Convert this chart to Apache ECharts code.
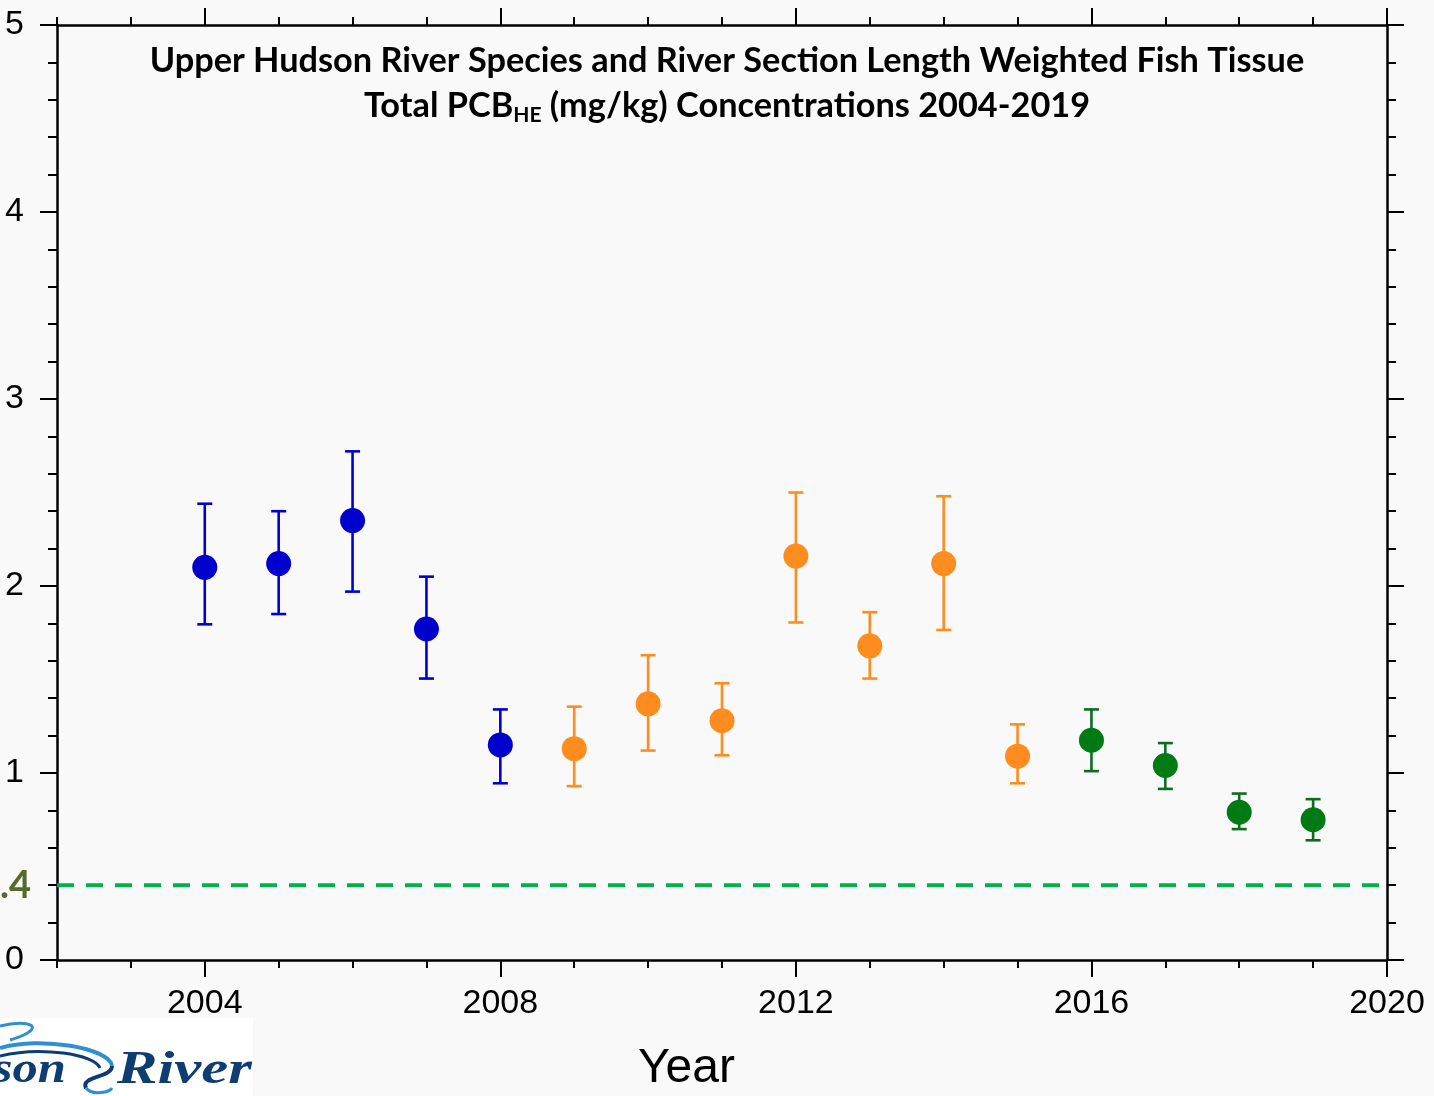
<!DOCTYPE html>
<html>
<head>
<meta charset="utf-8">
<script src="https://cdn.jsdelivr.net/npm/echarts@6/dist/echarts.min.js"></script>
<style>
html,body{margin:0;padding:0;background:#f9f9f9;}
#chart{width:1434px;height:1096px;}
</style>
</head>
<body>
<div id="chart"></div>
<script>
// ---- data ----
const years  = [2004, 2005, 2006, 2007, 2008, 2009, 2010, 2011, 2012, 2013, 2014, 2015, 2016, 2017, 2018, 2019];
const means  = [2.10, 2.12, 2.35, 1.77, 1.15, 1.13, 1.37, 1.28, 2.16, 1.68, 2.12, 1.09, 1.175, 1.04, 0.79, 0.75];
const upper  = [2.44, 2.40, 2.72, 2.05, 1.34, 1.355, 1.63, 1.48, 2.50, 1.86, 2.48, 1.26, 1.34, 1.16, 0.89, 0.86];
const lower  = [1.795, 1.85, 1.97, 1.505, 0.945, 0.93, 1.12, 1.095, 1.805, 1.505, 1.765, 0.945, 1.01, 0.915, 0.70, 0.64];
const period = ['pre','pre','pre','pre','pre','dredge','dredge','dredge','dredge','dredge','dredge','dredge','post','post','post','post'];
const majorYears = [2004, 2008, 2012, 2016, 2020];
const allYears = [2002, 2003, 2004, 2005, 2006, 2007, 2008, 2009, 2010, 2011, 2012, 2013, 2014, 2015, 2016, 2017, 2018, 2019, 2020];
const targetValue = 0.4;
const targetLine = [[2002, targetValue], [2020, targetValue]];

const periodStyle = {
  pre:    {marker: '#0000cc', bar: '#0000cc'},
  dredge: {marker: '#ff8c1e', bar: '#ff8c1e'},
  post:   {marker: '#007a12', bar: '#0d6b22'}
};

const chart = echarts.init(document.getElementById('chart'), null, {renderer: 'canvas'});

function seriesFor(key) {
  const pts = [], bars = [];
  years.forEach((y, i) => {
    if (period[i] === key) {
      pts.push([y, means[i]]);
      bars.push([y, lower[i], upper[i]]);
    }
  });
  const col = periodStyle[key];
  return [
    {
      type: 'custom',
      xAxisIndex: 0, yAxisIndex: 0,
      data: bars,
      encode: {x: 0, y: [1, 2]},
      z: 3,
      renderItem: function (params, api) {
        const x = api.value(0);
        const lo = api.coord([x, api.value(1)]);
        const hi = api.coord([x, api.value(2)]);
        const w = 7.5;
        const st = {stroke: col.bar, lineWidth: 2.6};
        return {
          type: 'group',
          children: [
            {type: 'line', shape: {x1: lo[0], y1: lo[1], x2: hi[0], y2: hi[1]}, style: st},
            {type: 'line', shape: {x1: lo[0] - w, y1: lo[1], x2: lo[0] + w, y2: lo[1]}, style: st},
            {type: 'line', shape: {x1: hi[0] - w, y1: hi[1], x2: hi[0] + w, y2: hi[1]}, style: st}
          ]
        };
      }
    },
    {
      type: 'scatter',
      xAxisIndex: 0, yAxisIndex: 0,
      data: pts,
      symbol: 'circle',
      symbolSize: 25,
      itemStyle: {color: col.marker, opacity: 1},
      z: 4
    }
  ];
}

const axisLineStyle = {color: '#000', width: 2.5};
const tickStyle = {color: '#000', width: 2};
const labelFont = '"Liberation Sans", Arial, sans-serif';
const yearFmt = v => String(v);

const option = {
  backgroundColor: '#f9f9f9',
  animation: false,
  grid: {left: 57, right: 47, top: 25, bottom: 136, containLabel: false},
  xAxis: [
    {
      type: 'value', position: 'bottom', min: 2002, max: 2020,
      axisLine: {show: true, lineStyle: axisLineStyle},
      axisTick: {show: true, customValues: majorYears, length: 17, lineStyle: tickStyle},
      axisLabel: {show: true, customValues: majorYears, formatter: yearFmt, fontSize: 34, color: '#000', fontFamily: labelFont, margin: 27},
      splitLine: {show: false}
    },
    {
      type: 'value', position: 'bottom', min: 2002, max: 2020,
      axisLine: {show: false},
      axisTick: {show: true, customValues: allYears, length: 8, lineStyle: tickStyle},
      axisLabel: {show: false},
      splitLine: {show: false}
    },
    {
      type: 'value', position: 'top', min: 2002, max: 2020,
      axisLine: {show: true, lineStyle: axisLineStyle},
      axisTick: {show: true, customValues: majorYears, length: 17, lineStyle: tickStyle},
      axisLabel: {show: false},
      splitLine: {show: false}
    },
    {
      type: 'value', position: 'top', min: 2002, max: 2020,
      axisLine: {show: false},
      axisTick: {show: true, customValues: allYears, length: 8, lineStyle: tickStyle},
      axisLabel: {show: false},
      splitLine: {show: false}
    }
  ],
  yAxis: [
    {
      type: 'value', position: 'left', min: 0, max: 5, interval: 1,
      axisLine: {show: true, lineStyle: axisLineStyle},
      axisTick: {show: true, length: 17, lineStyle: tickStyle},
      minorTick: {show: true, splitNumber: 5, length: 9, lineStyle: tickStyle},
      axisLabel: {show: true, fontSize: 34, color: '#000', fontFamily: labelFont, margin: 33},
      splitLine: {show: false}, minorSplitLine: {show: false}
    },
    {
      type: 'value', position: 'right', min: 0, max: 5, interval: 1,
      axisLine: {show: true, lineStyle: axisLineStyle},
      axisTick: {show: true, length: 17, lineStyle: tickStyle},
      minorTick: {show: true, splitNumber: 5, length: 9, lineStyle: tickStyle},
      axisLabel: {show: false},
      splitLine: {show: false}, minorSplitLine: {show: false}
    }
  ],
  series: [
    {
      type: 'line',
      xAxisIndex: 0, yAxisIndex: 0,
      data: targetLine,
      symbol: 'none',
      lineStyle: {color: '#00b050', width: 4, type: [17, 12]},
      z: 2
    },
    ...seriesFor('pre'),
    ...seriesFor('dredge'),
    ...seriesFor('post')
  ],
  graphic: [
    {
      type: 'text', x: 727, y: 38, z: 10,
      style: {
        text: '{a|Upper Hudson River Species and River Section Length Weighted Fish Tissue}\n{a|Total PCB}{s|HE}{a| (mg/kg) Concentrations 2004-2019}',
        align: 'center', verticalAlign: 'top',
        rich: {
          a: {fontFamily: 'Lato, sans-serif', fontWeight: 'bold', fontSize: 34.3, fill: '#000', lineHeight: 45},
          s: {fontFamily: 'Lato, sans-serif', fontWeight: 'bold', fontSize: 21, fill: '#000', lineHeight: 45, verticalAlign: 'bottom', padding: [0, 0, 2, 0]}
        }
      }
    },
    {
      type: 'text', left: 0, top: 867,
      style: {text: '.4', fontSize: 38, fontWeight: 'bold', fontFamily: 'Lato, sans-serif', fill: '#556b2a'}
    },
    {
      type: 'text', left: 638, top: 1045,
      style: {text: 'Year', fontSize: 48, fontFamily: labelFont, fill: '#000'}
    },
    {
      type: 'group', x: 0, y: 1018,
      children: [
        {type: 'rect', shape: {x: 0, y: 0, width: 253, height: 78}, style: {fill: '#ffffff'}},
        {type: 'bezierCurve', shape: {x1: 0, y1: 8, cpx1: 30, cpy1: 0, cpx2: 50, cpy2: 10, x2: 10, y2: 22}, style: {stroke: '#2f8fd4', lineWidth: 3, fill: null}},
        {type: 'bezierCurve', shape: {x1: 0, y1: 30, cpx1: 40, cpy1: 18, cpx2: 110, cpy2: 30, x2: 112, y2: 48}, style: {stroke: '#2f8fd4', lineWidth: 4, fill: null}},
        {type: 'bezierCurve', shape: {x1: 0, y1: 38, cpx1: 40, cpy1: 28, cpx2: 95, cpy2: 36, x2: 100, y2: 50}, style: {stroke: '#0e3d72', lineWidth: 3, fill: null}},
        {type: 'bezierCurve', shape: {x1: 112, y1: 48, cpx1: 112, cpy1: 60, cpx2: 80, cpy2: 58, x2: 86, y2: 70}, style: {stroke: '#0e3d72', lineWidth: 4, fill: null}},
        {type: 'bezierCurve', shape: {x1: 86, y1: 70, cpx1: 92, cpy1: 78, cpx2: 110, cpy2: 74, x2: 112, y2: 70}, style: {stroke: '#2f8fd4', lineWidth: 3, fill: null}},
        {type: 'text', x: 66, y: 53, scaleX: 1.15, style: {text: 'son', fontSize: 44, fontStyle: 'italic', fontWeight: 'bold', fontFamily: '"Liberation Serif", serif', fill: '#0e3d72', align: 'right', verticalAlign: 'middle'}},
        {type: 'text', x: 117, y: 53, scaleX: 1.32, style: {text: 'River', fontSize: 46, fontStyle: 'italic', fontWeight: 'bold', fontFamily: '"Liberation Serif", serif', fill: '#0e3d72', align: 'left', verticalAlign: 'middle'}}
      ]
    }
  ]
};

chart.setOption(option);
</script>
</body>
</html>
